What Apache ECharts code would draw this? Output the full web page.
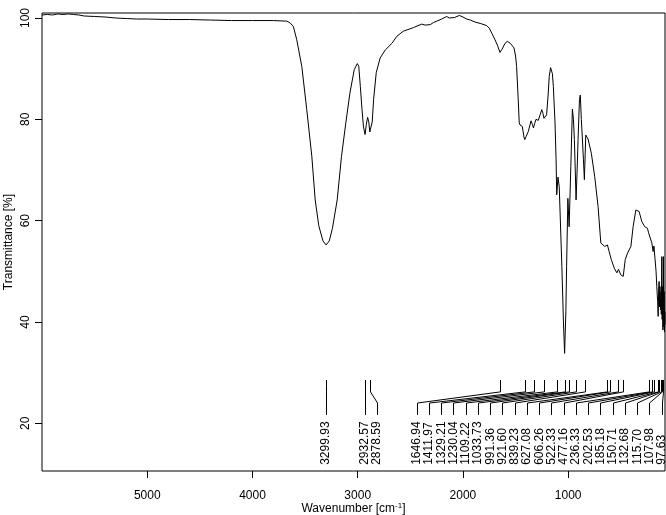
<!DOCTYPE html>
<html>
<head>
<meta charset="utf-8">
<script src="https://cdn.jsdelivr.net/npm/echarts@6/dist/echarts.min.js"></script>
<style>
html,body{margin:0;padding:0;background:#fff;}
#irChart{width:666px;height:515px;}
</style>
</head>
<body>
<div id="irChart"></div>
<script>
// IR spectrum: wavenumber [cm-1] -> transmittance [%]
const wavenumber = [
	6000,5950,5900,5850,5800,5750,5700,5650,5600,5500,5400,5300,5200,5100,5000,4800,4600,4400,4200,4000,3900,3800,3700,
	3674,3640,3611,3579,3531,3484,3436,3404,3370,3330,3300,3270,3240,3195,3154,3113,3074,3033,3004,2990,2975,2959,2945,
	2930,2918,2906,2895,2885,2874,2862,2849,2824,2787,2738,2675,2628,2566,2471,2391,2360,2344,2310,2281,2202,2154,2130,
	2116,2080,2034,2000,1964,1930,1885,1830,1774,1750,1726,1695,1670,1648,1630,1600,1578,1550,1530,1515,1500,1490,1475,
	1465,1458,1436,1420,1412,1400,1379,1353,1340,1330,1318,1306,1290,1284,1265,1251,1240,1230,1215,1205,1190,1180,1167,
	1160,1150,1141,1125,1115,1109,1097,1085,1060,1045,1034,1022,1015,1003,991,975,960,950,941,925,915,906,893,885,875,
	868,855,846,833,820,811,780,748,716,690,653,627,611,590,560,537,522,500,477,458,436,404,383,357,326,300,272,247,236,
	224,205,193,185,175,165,158,150,145,140,136,132,128,123,118,115,110,107,103,100,97,95,91,88,85,82,80
];
const transmittance = [
	100.6,100.7,100.6,100.8,100.7,100.8,100.7,100.6,100.4,100.3,100.2,100.0,99.9,99.8,99.8,99.7,99.7,99.6,99.5,99.5,99.5,99.5,99.4,
	99.4,99.0,98.3,95.7,90.4,81.9,72.7,64.1,59.0,56.0,55.2,56.0,58.5,64.1,72.7,79.3,85.2,89.8,91.0,90.5,86.5,81.9,78.5,
	77.0,79.0,80.4,79.5,77.5,77.3,79.5,83.9,89.2,92.1,93.7,95.0,96.4,97.4,98.1,98.8,98.6,98.3,98.7,99.1,99.8,100.3,100.0,
	99.8,100.1,100.5,100.2,99.8,99.6,99.2,98.9,98.5,98.0,97.0,95.7,94.5,93.2,93.8,95.0,95.4,95.0,94.5,94.1,92.5,90.4,84.0,
	79.3,78.9,78.6,76.5,76.0,76.6,77.6,79.7,79.0,78.3,79.2,80.0,79.9,79.8,81.0,81.9,81.2,80.2,80.5,80.9,85.0,88.5,90.2,
	90.3,89.0,86.5,79.3,72.0,65.1,68.6,66.7,50.9,40.0,33.8,42.0,50.9,64.4,58.8,70.7,82.0,80.0,76.0,64.1,70.0,76.0,83.9,84.8,80.0,
	77.3,72.0,68.1,76.9,76.9,76.1,73.3,68.7,62.8,55.6,54.9,55.2,53.9,52.3,50.5,49.7,50.4,49.3,49.0,52.3,53.6,54.9,58.8,62.1,61.8,59.8,58.8,58.5,57.6,
	57.8,55.6,53.9,55.0,52.5,50.0,47.0,44.0,41.1,46.5,48.0,43.0,47.0,42.4,46.0,41.5,52.9,40.5,47.0,38.4,44.0,52.9,39.0,46.0,38.0,42.0,39.5
];
// labelled peak positions [cm-1]
const peaks = [3299.93,2932.57,2878.59,1646.94,1411.97,1329.21,1230.04,1109.22,1033.73,991.36,921.60,839.23,
	627.08,606.26,522.33,477.16,236.33,202.53,185.18,150.71,132.68,115.70,107.98,97.63];
const xTicks = [1000,2000,3000,4000,5000];
const yTicks = [20,40,60,80,100];

const fontName = 'Liberation Sans';
var chartDom = document.getElementById('irChart');
var chartObj = echarts.init(chartDom);

function peakLabel(params, api){
	// spread the labels so they don't overlap, then draw this one
	let px = peaks.map(w => api.coord([w, 50])[0]);
	let lx = px.slice();
	const gap = 12.25;
	for (let i = 1; i < lx.length; i++) lx[i] = Math.max(lx[i], lx[i-1] + gap);
	const rightEdge = params.coordSys.x + params.coordSys.width - 3.3;
	lx[lx.length-1] = Math.min(lx[lx.length-1], rightEdge);
	for (let i = lx.length - 2; i >= 0; i--) lx[i] = Math.min(lx[i], lx[i+1] - gap);

	const i = params.dataIndex;
	const w = peaks[i];
	const x0 = Math.round(px[i]) + 0.5, x1 = Math.round(lx[i]) + 0.5;
	const yTop = api.coord([w, 28.55])[1];
	const yB1 = api.coord([w, 26.2])[1];
	const yB2 = api.coord([w, 24.0])[1];
	const yEnd = api.coord([w, 21.65])[1];
	const yText = api.coord([w, 11.8])[1];
	return {
		type: 'group',
		children: [
			{
				type: 'polyline',
				shape: { points: [[x0, yTop], [x0, yB1], [x1, yB2], [x1, yEnd]] },
				style: { stroke: '#000', lineWidth: 1, fill: null }
			},
			{
				type: 'text',
				x: lx[i], y: yText,
				rotation: Math.PI / 2,
				style: {
					text: w.toFixed(2),
					fontSize: 12, fontFamily: fontName, fill: '#000',
					align: 'left', verticalAlign: 'middle'
				}
			}
		]
	};
}

let option = {
	animation: false,
	backgroundColor: '#fff',
	grid: {
		left: 42, right: 1, top: 13, bottom: 44,
		outerBoundsMode: 'none',
		containLabel: false,
		show: true, borderColor: '#000', borderWidth: 1, backgroundColor: 'transparent'
	},
	xAxis: {
		type: 'value',
		inverse: true,
		min: 80, max: 6000,
		name: 'Wavenumber [cm{sup|-1}]',
		nameLocation: 'middle',
		nameGap: 31,
		nameMoveOverlap: false,
		nameTextStyle: {
			color: '#000', fontSize: 12, fontFamily: fontName, lineHeight: 14,
			rich: { sup: { fontSize: 8, fontFamily: fontName, color: '#000', verticalAlign: 'top', lineHeight: 8 } }
		},
		axisLine: { show: false, onZero: false },
		axisTick: { show: true, length: 7, lineStyle: { color: '#000' }, customValues: xTicks },
		axisLabel: {
			customValues: xTicks, margin: 19, color: '#000', fontSize: 12, fontFamily: fontName,
			formatter: v => String(v)
		},
		splitLine: { show: false }
	},
	yAxis: {
		type: 'value',
		min: 10.58, max: 100.99,
		name: 'Transmittance [%]',
		nameLocation: 'middle',
		nameGap: 27,
		nameMoveOverlap: false,
		nameTextStyle: { color: '#000', fontSize: 12, fontFamily: fontName },
		axisLine: { show: false },
		axisTick: { show: true, length: 7, lineStyle: { color: '#000' }, customValues: yTicks },
		axisLabel: {
			customValues: yTicks, rotate: 90, margin: 10, color: '#000', fontSize: 12, fontFamily: fontName,
			formatter: v => String(v)
		},
		splitLine: { show: false }
	},
	series: [
		{
			type: 'line',
			data: wavenumber.map((w, i) => [w, transmittance[i]]),
			symbol: 'none',
			showSymbol: false,
			silent: true,
			lineStyle: { color: '#000', width: 1 }
		},
		{
			type: 'custom',
			data: peaks.map(w => [w, 20]),
			renderItem: peakLabel,
			silent: true,
			clip: false
		}
	]
};
option && chartObj.setOption(option);
</script>
</body>
</html>
